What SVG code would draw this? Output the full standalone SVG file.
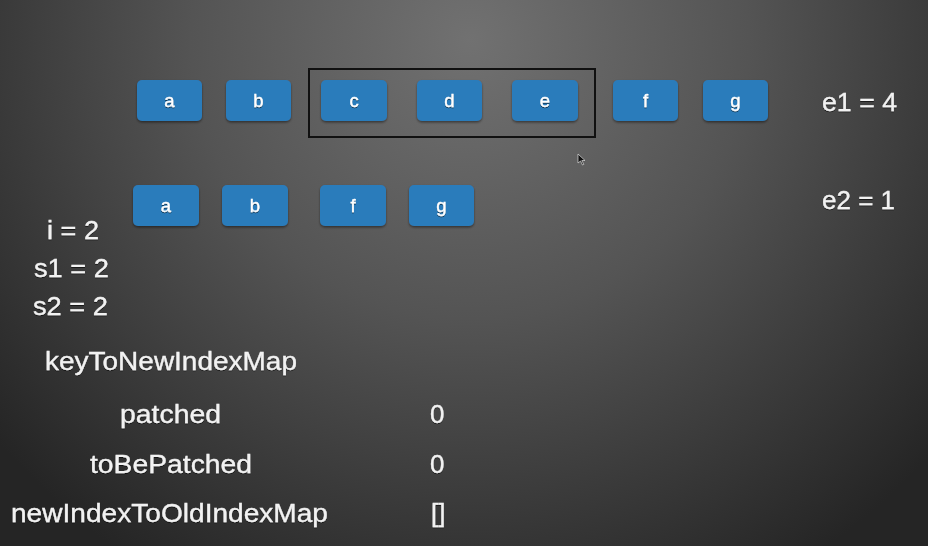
<svg xmlns="http://www.w3.org/2000/svg" width="928" height="546" viewBox="0 0 928 546">
<defs>
<radialGradient id="bg" cx="470" cy="40" r="620" gradientUnits="userSpaceOnUse">
<stop offset="0" stop-color="#717171"/>
<stop offset="0.45" stop-color="#545454"/>
<stop offset="1" stop-color="#252525"/>
</radialGradient>
<filter id="sh" x="-20%" y="-20%" width="140%" height="150%">
<feDropShadow dx="0" dy="1.5" stdDeviation="1" flood-color="#000" flood-opacity="0.45"/>
</filter>
<filter id="tsh" x="-20%" y="-20%" width="140%" height="150%">
<feDropShadow dx="0" dy="1" stdDeviation="0.6" flood-color="#000" flood-opacity="0.6"/>
</filter>
</defs>
<style>
.n rect{fill:#2b7bbb;filter:url(#sh)}
.n text{fill:#fff;stroke:#fff;stroke-width:0.35;font-family:"Liberation Sans",Arial,sans-serif;font-size:18.5px;text-anchor:middle;filter:url(#tsh)}
.l{fill:#f2f2f2;stroke:#f2f2f2;stroke-width:0.3;font-family:"Liberation Sans",Arial,sans-serif;font-size:26px;filter:url(#tsh)}
</style>
<rect width="928" height="546" fill="url(#bg)"/>
<g id="old-a" class="n"><rect x="137" y="80" width="65" height="41" rx="5"/><text x="169.5" y="107">a</text></g>
<g id="old-b" class="n"><rect x="226" y="80" width="65" height="41" rx="5"/><text x="258.5" y="107">b</text></g>
<g id="old-c" class="n"><rect x="321" y="80" width="66" height="41" rx="5"/><text x="354" y="107">c</text></g>
<g id="old-d" class="n"><rect x="417" y="80" width="65" height="41" rx="5"/><text x="449.5" y="107">d</text></g>
<g id="old-e" class="n"><rect x="512" y="80" width="66" height="41" rx="5"/><text x="545" y="107">e</text></g>
<g id="old-f" class="n"><rect x="613" y="80" width="65" height="41" rx="5"/><text x="645.5" y="107">f</text></g>
<g id="old-g" class="n"><rect x="703" y="80" width="65" height="41" rx="5"/><text x="735.5" y="107">g</text></g>
<g id="new-a" class="n"><rect x="133" y="185" width="66" height="41" rx="5"/><text x="166" y="212">a</text></g>
<g id="new-b" class="n"><rect x="222" y="185" width="66" height="41" rx="5"/><text x="255" y="212">b</text></g>
<g id="new-f" class="n"><rect x="320" y="185" width="66" height="41" rx="5"/><text x="353" y="212">f</text></g>
<g id="new-g" class="n"><rect x="409" y="185" width="65" height="41" rx="5"/><text x="441.5" y="212">g</text></g>
<g id="connectors">
<rect id="range" x="309" y="69" width="286" height="68" fill="none" stroke="#111" stroke-width="2"/>
</g>
<path d="M578 154 L578 163 L580.5 161 L582.5 165 L583.8 164.4 L581.8 160.5 L585 160.5 Z" fill="#111" stroke="#ddd" stroke-width="0.7"/>
<g id="labels">
<text class="l" x="822" y="111" textLength="75" lengthAdjust="spacingAndGlyphs">e1 = 4</text>
<text class="l" x="822" y="209" textLength="73" lengthAdjust="spacingAndGlyphs">e2 = 1</text>
<text class="l" x="47" y="239" textLength="52" lengthAdjust="spacingAndGlyphs">i = 2</text>
<text class="l" x="34" y="277" textLength="75" lengthAdjust="spacingAndGlyphs">s1 = 2</text>
<text class="l" x="33" y="315" textLength="75" lengthAdjust="spacingAndGlyphs">s2 = 2</text>
<text class="l" x="45" y="370" textLength="252" lengthAdjust="spacingAndGlyphs">keyToNewIndexMap</text>
<text class="l" x="120" y="423" textLength="101" lengthAdjust="spacingAndGlyphs">patched</text>
<text class="l" x="90" y="473" textLength="162" lengthAdjust="spacingAndGlyphs">toBePatched</text>
<text class="l" x="11" y="522" textLength="317" lengthAdjust="spacingAndGlyphs">newIndexToOldIndexMap</text>
<text class="l" x="430" y="423">0</text>
<text class="l" x="430" y="473">0</text>
<text class="l" x="431" y="522">[]</text>
</g>
</svg>
